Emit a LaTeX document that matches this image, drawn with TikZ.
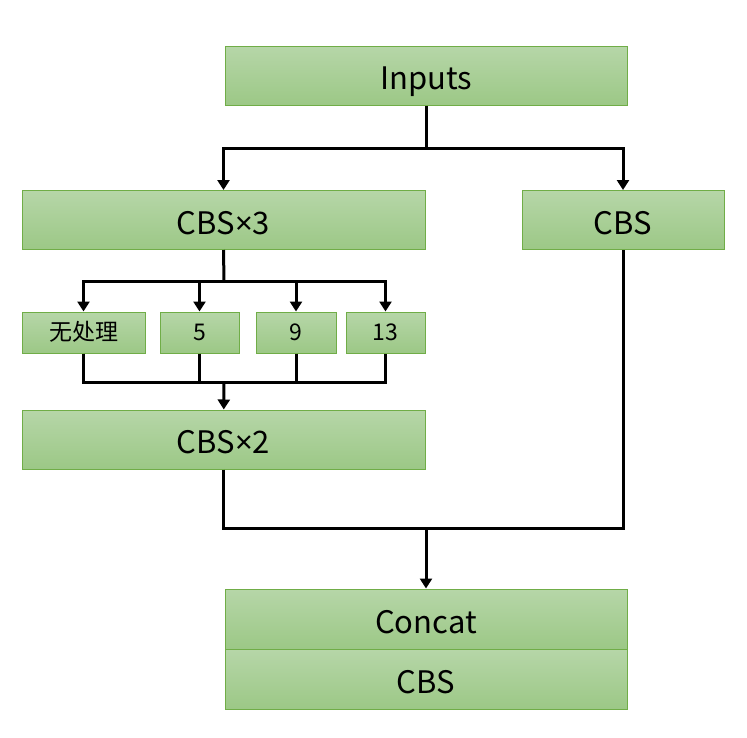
\documentclass[tikz,border=0pt]{standalone}
\usepackage{fontspec}
\setmainfont{Noto Sans CJK SC}
\newfontfamily\latinsym{Noto Sans}
\usetikzlibrary{arrows.meta,positioning}
\definecolor{leaftop}{HTML}{B6D6A8}
\definecolor{leafbot}{HTML}{9CC886}
\definecolor{leafedge}{HTML}{70AD47}
\tikzset{block/.style={draw=leafedge,line width=1pt,top color=leaftop,bottom color=leafbot,inner sep=0pt,minimum height=59pt,text height=28pt,text depth=0pt,font=\fontsize{31}{31}\selectfont},kbox/.style={block,minimum height=41pt,text height=16.5pt,font=\fontsize{23}{23}\selectfont},link/.style={line width=3pt,draw=black},flow/.style={link,-{Triangle[length=10pt,width=12pt]}}}

\begin{document}
\begin{tikzpicture}[x=1pt,y=-1pt]
\useasboundingbox (0,0) rectangle (747,737);
\node[block,minimum width=402pt] (inputs) at (426,75.5) {Inputs};
\node[block,minimum width=403pt] (cbsA) at (223.5,220) {CBS{\latinsym ×}3};
\node[block,minimum width=202pt] (cbsB) at (623,220) {CBS};
\node[kbox,minimum width=123pt] (none) at (83.5,332.5) {无处理};
\node[kbox,minimum width=79pt] (pool5) at (199.5,332.5) {5};
\node[kbox,minimum width=80pt] (pool9) at (296,332.5) {9};
\node[kbox,minimum width=79pt] (pool13) at (385.5,332.5) {13};
\node[block,minimum width=403pt] (cbsC) at (223.5,439.5) {CBS{\latinsym ×}2};
\node[block,minimum width=402pt,minimum height=60pt] (concat) at (426,619) {Concat};
\node[block,minimum width=402pt,minimum height=60pt] (cbsD) at (426,679) {CBS};
% branch points
\coordinate (fork) at (426,148);
\coordinate (spread) at (224,281);
\coordinate (gather) at (224,382);
\coordinate (merge) at (426,528);
\draw[link] (inputs) -- (fork);
\draw[flow] (fork) -| (cbsA.north);
\draw[flow] (fork) -| (cbsB.north);
\draw[link] (cbsA.south) -- (spread);
\draw[flow] (spread) -| (none.north);
\draw[flow] (spread) -| (pool5.north);
\draw[flow] (spread) -| (pool9.north);
\draw[flow] (spread) -| (pool13.north);
\draw[link] (none.south) |- (gather) -| (pool13.south);
\draw[link] (pool5.south) -- (pool5.south |- gather);
\draw[link] (pool9.south) -- (pool9.south |- gather);
\draw[flow] (gather) -- (cbsC);
\draw[link] (cbsC.south) |- (merge) -| (cbsB.south);
\draw[flow] (merge) -- (concat);
\end{tikzpicture}
\end{document}
